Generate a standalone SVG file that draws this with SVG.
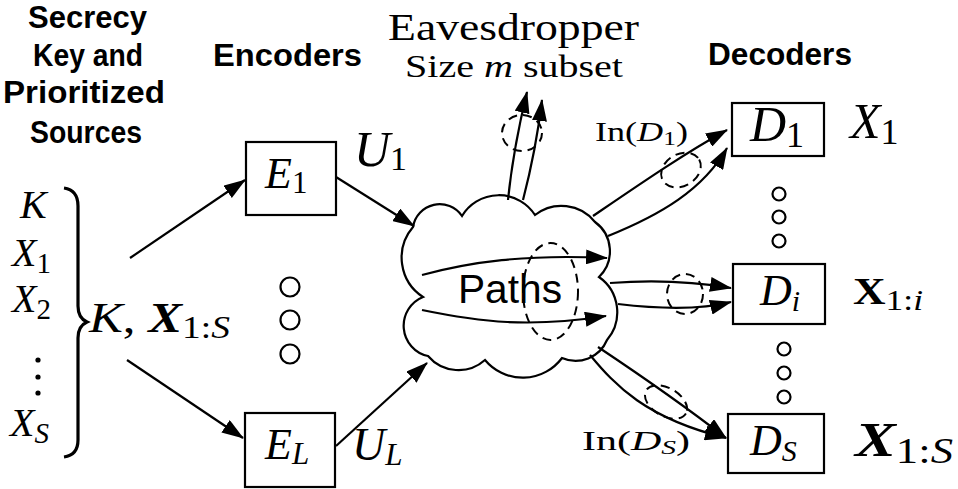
<svg xmlns="http://www.w3.org/2000/svg" width="958" height="489" viewBox="0 0 958 489">
  <style>
    .box { fill: #fff; stroke: #000; stroke-width: 2.2; }
    .ln { fill: none; stroke: #000; stroke-width: 2.2; }
    .arr { fill: none; stroke: #000; stroke-width: 2.2; marker-end: url(#head); }
    .dash { fill: none; stroke: #000; stroke-width: 2; stroke-dasharray: 9 6; }
    .dot { fill: #fff; stroke: #000; stroke-width: 2.2; }
    .hd { font-family: "Liberation Sans", Arial, sans-serif; font-weight: bold; font-size: 31px; fill: #000; }
    .mt { font-family: "Liberation Serif", "Times New Roman", serif; fill: #000; }
    .it { font-style: italic; }
  </style>
  <defs>
    <marker id="head" markerUnits="userSpaceOnUse" viewBox="0 0 22 15" markerWidth="22" markerHeight="15" refX="21" refY="7.5" orient="auto">
      <path d="M0,0 L22,7.5 L0,15 Z" fill="#000"/>
    </marker>
  </defs>

  <!-- column headings -->
  <g id="headings">
    <text class="hd" x="28" y="28" textLength="119" lengthAdjust="spacingAndGlyphs">Secrecy</text>
    <text class="hd" x="33" y="66" textLength="110" lengthAdjust="spacingAndGlyphs">Key and</text>
    <text class="hd" x="3" y="103" textLength="162" lengthAdjust="spacingAndGlyphs">Prioritized</text>
    <text class="hd" x="30" y="143" textLength="112" lengthAdjust="spacingAndGlyphs">Sources</text>
    <text class="hd" x="213" y="66" textLength="149" lengthAdjust="spacingAndGlyphs">Encoders</text>
    <text class="hd" x="708" y="65" textLength="144" lengthAdjust="spacingAndGlyphs">Decoders</text>
  </g>

  <!-- sources and brace -->
  <g id="sources">
    <text class="mt it" x="20" y="218" font-size="40">K</text>
    <text class="mt it" x="12" y="266" font-size="40">X<tspan font-style="normal" font-size="29" dy="7">1</tspan></text>
    <text class="mt it" x="12" y="312" font-size="40">X<tspan font-style="normal" font-size="29" dy="7">2</tspan></text>
    <circle cx="38" cy="360" r="2.6" fill="#000"/>
    <circle cx="38" cy="377" r="2.6" fill="#000"/>
    <circle cx="38" cy="393" r="2.6" fill="#000"/>
    <text class="mt it" x="10" y="436" font-size="40">X<tspan font-size="29" dy="7">S</tspan></text>
    <path d="M64,188 Q78,190 78,206 L78,306 Q78,318 87,322 Q78,326 78,338 L78,440 Q78,455 64,457" fill="none" stroke="#000" stroke-width="3.2"/>
    <text class="mt" x="89" y="332" font-size="42" textLength="141" lengthAdjust="spacingAndGlyphs"><tspan class="it">K</tspan>, <tspan font-weight="bold" font-style="italic">X</tspan><tspan font-size="31" dy="6">1:</tspan><tspan font-size="31" font-style="italic">S</tspan></text>
  </g>

  <!-- encoders -->
  <g id="E1">
    <rect class="box" x="246" y="142" width="90" height="73"/>
    <text class="mt it" x="265" y="188" font-size="44">E<tspan font-style="normal" font-size="31" dy="5">1</tspan></text>
  </g>
  <g id="EL">
    <rect class="box" x="245" y="413" width="90" height="74"/>
    <text class="mt it" x="265" y="459" font-size="44">E<tspan font-size="31" dy="5">L</tspan></text>
  </g>
  <g id="enc-dots">
    <circle class="dot" cx="290" cy="287" r="9.5"/>
    <circle class="dot" cx="290" cy="320" r="9.5"/>
    <circle class="dot" cx="290" cy="354" r="9.5"/>
  </g>
  <text class="mt it" x="354" y="166" font-size="50">U<tspan font-style="normal" font-size="34" dy="4">1</tspan></text>
  <text class="mt it" x="352" y="460" font-size="46">U<tspan font-size="31" dy="5">L</tspan></text>

  <!-- network of paths -->
  <g id="cloud">
    <path class="box" d="M423,297 A47,47 0 0 1 413,227 A27,27 0 0 1 462,216 A43,43 0 0 1 535,215 A43,43 0 0 1 595,222 A36,36 0 0 1 599,277 A43,43 0 0 1 607,340 A34,34 0 0 1 562,358 A49,49 0 0 1 485,360 A40,40 0 0 1 428,356 A31,31 0 0 1 423,297 Z"/>
    <text x="510" y="303" text-anchor="middle" font-family="Liberation Sans, Arial, sans-serif" font-size="40" textLength="104" lengthAdjust="spacingAndGlyphs">Paths</text>
  </g>

  <!-- eavesdropper -->
  <g id="eavesdropper">
    <text class="mt" x="388" y="40" font-size="37" textLength="251" lengthAdjust="spacingAndGlyphs">Eavesdropper</text>
    <text class="mt" x="405" y="77" font-size="32" textLength="218" lengthAdjust="spacingAndGlyphs">Size <tspan class="it">m</tspan> subset</text>
  </g>

  <!-- decoders -->
  <g id="D1">
    <rect class="box" x="732" y="103" width="92" height="53"/>
    <text class="mt it" x="750" y="141" font-size="50">D<tspan font-style="normal" font-size="36" dy="6">1</tspan></text>
  </g>
  <g id="Di">
    <rect class="box" x="733" y="264" width="92" height="60"/>
    <text class="mt it" x="760" y="305" font-size="44">D<tspan font-size="30" dy="6">i</tspan></text>
  </g>
  <g id="DS">
    <rect class="box" x="728" y="414" width="96" height="59"/>
    <text class="mt it" x="750" y="455" font-size="44">D<tspan font-size="30" dy="6">S</tspan></text>
  </g>
  <g id="dec-dots">
    <circle class="dot" cx="779" cy="194" r="6.5"/>
    <circle class="dot" cx="779" cy="217" r="6.5"/>
    <circle class="dot" cx="779" cy="241" r="6.5"/>
    <circle class="dot" cx="784" cy="349" r="6.5"/>
    <circle class="dot" cx="784" cy="373" r="6.5"/>
    <circle class="dot" cx="784" cy="397" r="6.5"/>
  </g>

  <!-- decoder outputs -->
  <g id="outputs">
    <text class="mt it" x="850" y="138" font-size="50">X<tspan font-style="normal" font-size="36" dy="6">1</tspan></text>
    <text class="mt" x="853" y="304" font-size="37" font-weight="bold" textLength="70" lengthAdjust="spacingAndGlyphs">X<tspan font-weight="normal" font-size="29" dy="6">1:</tspan><tspan font-weight="normal" font-style="italic" font-size="29">i</tspan></text>
    <text class="mt" x="855" y="456" font-size="48" textLength="98" lengthAdjust="spacingAndGlyphs"><tspan font-weight="bold" font-style="italic">X</tspan><tspan font-size="35" dy="7">1:</tspan><tspan font-style="italic" font-size="35">S</tspan></text>
  </g>

  <!-- path-subset labels -->
  <text class="mt" x="595" y="141" font-size="27" textLength="93" lengthAdjust="spacingAndGlyphs">In(<tspan class="it">D</tspan><tspan font-size="19" dy="4">1</tspan><tspan dy="-4">)</tspan></text>
  <text class="mt" x="582" y="450" font-size="27" textLength="108" lengthAdjust="spacingAndGlyphs">In(<tspan class="it">D</tspan><tspan class="it" font-size="19" dy="4">S</tspan><tspan dy="-4">)</tspan></text>

  <!-- connectors -->
  <g id="connectors">
    <line class="arr" x1="130" y1="258" x2="245" y2="180"/>
    <line class="arr" x1="127" y1="360" x2="243" y2="438"/>
    <line class="arr" x1="336" y1="177" x2="414" y2="226"/>
    <line class="arr" x1="336" y1="446" x2="427" y2="363"/>

    <path class="arr" d="M422,275 C470,262 525,254 607,258"/>
    <path class="arr" d="M422,310 C480,322 530,328 606,316"/>

    <path class="arr" d="M508,200 Q513,150 527,92"/>
    <path class="arr" d="M523,200 Q536,150 542,100"/>

    <path class="arr" d="M593,216 C640,184 685,153 727,130"/>
    <path class="arr" d="M608,236 C660,215 703,190 727,148"/>

    <path class="arr" d="M610,283 C650,280 690,281 731,288"/>
    <path class="arr" d="M618,304 C660,309 700,310 731,302"/>

    <path class="arr" d="M598,347 C640,375 690,410 726,438"/>
    <path class="arr" d="M590,355 C615,385 645,418 726,438"/>
  </g>

  <!-- eavesdropped path subsets -->
  <g id="subsets">
    <ellipse class="dash" cx="550.5" cy="291.5" rx="27.5" ry="48.5"/>
    <ellipse class="dash" cx="522" cy="133" rx="20" ry="18"/>
    <ellipse class="dash" cx="681" cy="170" rx="21" ry="16" transform="rotate(-30 681 170)"/>
    <ellipse class="dash" cx="685" cy="294" rx="18" ry="20"/>
    <ellipse class="dash" cx="666" cy="402" rx="23" ry="14" transform="rotate(30 666 402)"/>
  </g>
</svg>
